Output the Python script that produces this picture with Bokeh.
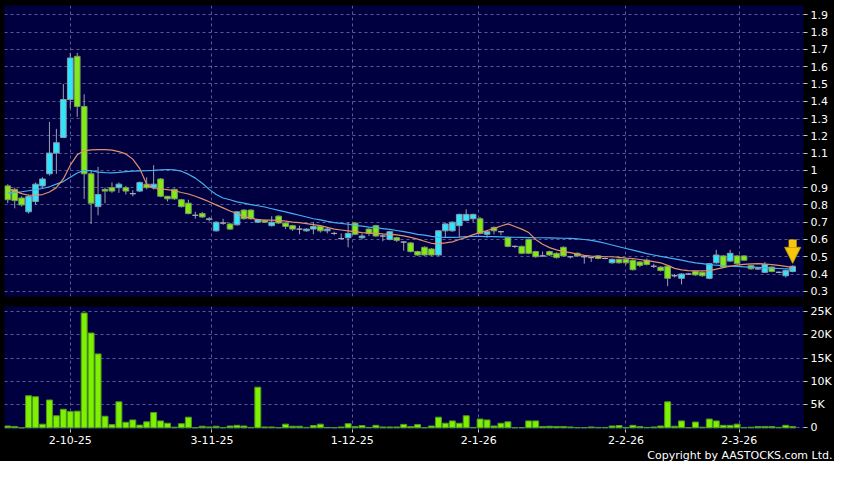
from bokeh.plotting import figure
from bokeh.layouts import column
from bokeh.models import (ColumnDataSource, FixedTicker, Range1d, Title, Arrow,
                          NormalHead, Grid)
from bokeh.embed import file_html
from bokeh.resources import INLINE

# ---------------- data ----------------
opens = [0.91, 0.89, 0.84, 0.76, 0.82, 0.91, 0.98, 1.10, 1.19, 1.41,
         1.66, 1.37, 0.98, 0.79, 0.89, 0.90, 0.90, 0.90, 0.865, 0.88,
         0.92, 0.90, 0.95, 0.85, 0.89, 0.83, 0.81, 0.74, 0.75, 0.715,
         0.65, 0.695, 0.69, 0.685, 0.77, 0.77, 0.70, 0.71, 0.68, 0.735,
         0.695, 0.68, 0.66, 0.65, 0.66, 0.675, 0.65, 0.635, 0.605, 0.61,
         0.695, 0.61, 0.66, 0.68, 0.62, 0.60, 0.61, 0.585, 0.58, 0.53,
         0.555, 0.545, 0.51, 0.65, 0.65, 0.68, 0.71, 0.72, 0.72, 0.63,
         0.67, 0.645, 0.61, 0.56, 0.56, 0.60, 0.53, 0.505, 0.53, 0.52,
         0.555, 0.50, 0.52, 0.50, 0.495, 0.505, 0.49, 0.465, 0.485, 0.485,
         0.48, 0.47, 0.48, 0.445, 0.44, 0.445, 0.39, 0.375, 0.40, 0.415,
         0.41, 0.375, 0.465, 0.505, 0.475, 0.505, 0.505, 0.45, 0.43, 0.41,
         0.44, 0.41, 0.39, 0.415]
highs = [0.92, 0.90, 0.85, 0.86, 0.93, 0.96, 1.28, 1.24, 1.50, 1.68,
         1.68, 1.44, 1.00, 1.02, 0.90, 0.93, 0.93, 0.91, 0.885, 0.935,
         0.96, 1.03, 0.955, 0.85, 0.895, 0.835, 0.83, 0.76, 0.76, 0.73,
         0.705, 0.72, 0.695, 0.765, 0.775, 0.775, 0.72, 0.715, 0.735, 0.74,
         0.70, 0.685, 0.68, 0.665, 0.70, 0.68, 0.67, 0.645, 0.635, 0.70,
         0.70, 0.635, 0.665, 0.685, 0.63, 0.65, 0.615, 0.59, 0.585, 0.535,
         0.56, 0.55, 0.655, 0.695, 0.705, 0.75, 0.775, 0.75, 0.73, 0.65,
         0.675, 0.65, 0.615, 0.565, 0.565, 0.605, 0.535, 0.53, 0.535, 0.525,
         0.56, 0.505, 0.525, 0.505, 0.50, 0.51, 0.495, 0.49, 0.49, 0.49,
         0.485, 0.475, 0.49, 0.46, 0.445, 0.45, 0.40, 0.405, 0.405, 0.42,
         0.415, 0.465, 0.54, 0.51, 0.54, 0.51, 0.51, 0.455, 0.435, 0.47,
         0.445, 0.415, 0.425, 0.45]
lows = [0.81, 0.78, 0.79, 0.75, 0.80, 0.90, 0.97, 0.98, 1.19, 1.36,
        1.31, 0.835, 0.69, 0.74, 0.81, 0.87, 0.87, 0.86, 0.85, 0.875,
        0.89, 0.89, 0.845, 0.82, 0.83, 0.785, 0.745, 0.72, 0.725, 0.705,
        0.645, 0.685, 0.655, 0.68, 0.715, 0.715, 0.695, 0.695, 0.675, 0.69,
        0.66, 0.65, 0.63, 0.645, 0.63, 0.64, 0.635, 0.625, 0.60, 0.555,
        0.625, 0.60, 0.62, 0.615, 0.59, 0.595, 0.585, 0.535, 0.525, 0.505,
        0.505, 0.505, 0.505, 0.61, 0.645, 0.61, 0.705, 0.70, 0.63, 0.61,
        0.63, 0.625, 0.555, 0.55, 0.515, 0.515, 0.495, 0.50, 0.505, 0.49,
        0.50, 0.49, 0.50, 0.46, 0.47, 0.485, 0.485, 0.46, 0.46, 0.455,
        0.42, 0.44, 0.45, 0.435, 0.415, 0.33, 0.38, 0.34, 0.395, 0.39,
        0.385, 0.37, 0.46, 0.435, 0.47, 0.455, 0.475, 0.425, 0.425, 0.405,
        0.41, 0.405, 0.38, 0.41]
closes = [0.83, 0.825, 0.80, 0.85, 0.92, 0.95, 1.10, 1.16, 1.41, 1.65,
          1.37, 0.98, 0.81, 0.86, 0.88, 0.88, 0.92, 0.88, 0.865, 0.93,
          0.90, 0.92, 0.85, 0.835, 0.835, 0.79, 0.75, 0.74, 0.73, 0.72,
          0.70, 0.695, 0.66, 0.76, 0.72, 0.72, 0.715, 0.70, 0.70, 0.695,
          0.675, 0.66, 0.66, 0.66, 0.675, 0.65, 0.66, 0.635, 0.605, 0.635,
          0.63, 0.62, 0.635, 0.62, 0.62, 0.645, 0.595, 0.585, 0.53, 0.51,
          0.51, 0.51, 0.65, 0.69, 0.70, 0.745, 0.745, 0.745, 0.635, 0.645,
          0.65, 0.645, 0.56, 0.56, 0.52, 0.52, 0.50, 0.505, 0.51, 0.495,
          0.505, 0.50, 0.505, 0.50, 0.495, 0.49, 0.49, 0.485, 0.465, 0.465,
          0.425, 0.45, 0.455, 0.445, 0.42, 0.375, 0.39, 0.40, 0.40, 0.395,
          0.39, 0.46, 0.51, 0.44, 0.52, 0.46, 0.48, 0.43, 0.43, 0.455,
          0.415, 0.41, 0.42, 0.445]
volumes = [400, 300, 0, 6900, 6700, 800, 6000, 2600, 4000, 3500,
           3600, 24700, 20400, 15900, 2500, 700, 5600, 1200, 1700, 600,
           1300, 3300, 1500, 1000, 150, 900, 2300, 50, 350, 200,
           350, 50, 400, 550, 400, 100, 8750, 200, 200, 50,
           800, 350, 350, 100, 500, 800, 100, 50, 200, 900,
           300, 500, 100, 550, 200, 200, 200, 750, 300, 700,
           50, 400, 2300, 1000, 1500, 1000, 2600, 100, 1900, 1700,
           400, 1000, 1300, 50, 50, 1500, 1500, 300, 350, 300,
           300, 200, 50, 50, 200, 100, 100, 400, 500, 50,
           550, 300, 100, 200, 400, 5600, 350, 1500, 50, 1250,
           150, 1900, 1500, 550, 550, 800, 100, 150, 300, 300,
           300, 100, 550, 300]
ma_short = [0.895, 0.88, 0.865, 0.856, 0.856, 0.86, 0.875, 0.90, 0.95, 1.03,
            1.09, 1.113, 1.118, 1.12, 1.12, 1.117, 1.108, 1.095, 1.065, 1.01,
            0.92, 0.895, 0.892, 0.888, 0.882, 0.872, 0.863, 0.85, 0.835, 0.818,
            0.80, 0.783, 0.765, 0.75, 0.732, 0.724, 0.715, 0.712, 0.712, 0.71,
            0.706, 0.70, 0.698, 0.692, 0.686, 0.68, 0.67, 0.66, 0.655, 0.65,
            0.645, 0.64, 0.637, 0.635, 0.632, 0.63, 0.627, 0.621, 0.612, 0.602,
            0.59, 0.578, 0.575, 0.58, 0.586, 0.60, 0.612, 0.628, 0.64, 0.652,
            0.663, 0.678, 0.69, 0.675, 0.66, 0.64, 0.60, 0.572, 0.553, 0.54,
            0.53, 0.524, 0.515, 0.508, 0.504, 0.502, 0.50, 0.50, 0.496, 0.492,
            0.49, 0.484, 0.478, 0.472, 0.465, 0.45, 0.433, 0.424, 0.42, 0.418,
            0.418, 0.42, 0.428, 0.437, 0.445, 0.452, 0.456, 0.459, 0.46, 0.458,
            0.455, 0.45, 0.444, 0.437]
ma_long = [0.87, 0.872, 0.876, 0.882, 0.888, 0.895, 0.905, 0.92, 0.935, 0.96,
           0.985, 1.0, 0.998, 0.99, 0.987, 0.985, 0.988, 0.993, 0.996, 0.997,
           0.998, 1.0, 1.003, 1.005, 1.003, 0.995, 0.978, 0.955, 0.925, 0.89,
           0.86, 0.84, 0.83, 0.818, 0.81, 0.802, 0.795, 0.788, 0.778, 0.768,
           0.76, 0.75, 0.74, 0.73, 0.72, 0.713, 0.705, 0.698, 0.693, 0.688,
           0.682, 0.677, 0.672, 0.668, 0.663, 0.658, 0.652, 0.645, 0.638, 0.63,
           0.625, 0.618, 0.614, 0.612, 0.612, 0.614, 0.617, 0.618, 0.618, 0.617,
           0.616, 0.615, 0.614, 0.613, 0.612, 0.611, 0.61, 0.61, 0.609, 0.608,
           0.607, 0.606, 0.604, 0.60, 0.595, 0.588, 0.578, 0.568, 0.558, 0.548,
           0.538, 0.528, 0.518, 0.51, 0.502, 0.495, 0.488, 0.48, 0.472, 0.465,
           0.46, 0.455, 0.451, 0.448, 0.446, 0.444, 0.442, 0.44, 0.438, 0.436,
           0.434, 0.432, 0.43, 0.428]

x_tick_pos = [9, 29.4, 49.6, 67.8, 89, 105.3]
x_tick_labels = ["2-10-25", "3-11-25", "1-12-25", "2-1-26", "2-2-26", "2-3-26"]
price_ticks = [0.3, 0.4, 0.5, 0.6, 0.7, 0.8, 0.9, 1.0, 1.1, 1.2, 1.3, 1.4,
               1.5, 1.6, 1.7, 1.8, 1.9]
price_tick_labels = ["0.3", "0.4", "0.5", "0.6", "0.7", "0.8", "0.9", "1",
                     "1.1", "1.2", "1.3", "1.4", "1.5", "1.6", "1.7", "1.8", "1.9"]
vol_ticks = [0, 5000, 10000, 15000, 20000, 25000]
vol_tick_labels = ["0", "5K", "10K", "15K", "20K", "25K"]
copyright_text = "Copyright by AASTOCKS.com Ltd."

# ---------------- styles ----------------
NAVY = "#000040"
UP_FILL, UP_LINE = "#2ee4ff", "#8a9aa4"
DN_FILL, DN_LINE = "#80ec14", "#7a9a62"
FLAT_LINE = "#a9aab8"
WICK = "#9aa0ac"
GRID = "#5a5a92"
FONT = "DejaVu Sans"
FRAME_W = 799
AXIS_W = 31

n = len(closes)
idx = list(range(n))

up = dict(x=[], top=[], bottom=[])
dn = dict(x=[], top=[], bottom=[])
fl = dict(x=[], top=[], bottom=[])
for i, o, c in zip(idx, opens, closes):
    d = up if c > o else (dn if c < o else fl)
    d["x"].append(i)
    d["top"].append(max(o, c))
    d["bottom"].append(min(o, c))

x_range = Range1d(-0.47, 114.56)


def style(p):
    p.background_fill_color = NAVY
    p.border_fill_color = "black"
    p.outline_line_color = None
    p.min_border_left = 4
    p.min_border_right = AXIS_W
    ax = p.yaxis[0]
    ax.axis_line_color = None
    ax.major_tick_in = 0
    ax.major_tick_out = 4
    ax.major_tick_line_color = "#c8c8c8"
    ax.minor_tick_line_color = None
    ax.major_label_text_color = "white"
    ax.major_label_text_font = FONT
    ax.major_label_text_font_size = "11px"
    ax.major_label_standoff = 3
    p.ygrid.grid_line_color = GRID
    p.ygrid.grid_line_dash = "3 3"
    p.xgrid.visible = False
    g = Grid(dimension=0, ticker=FixedTicker(ticks=x_tick_pos),
             grid_line_color=GRID, grid_line_dash="3 3")
    p.add_layout(g)


# ---------------- price panel ----------------
p1 = figure(frame_width=FRAME_W, frame_height=291, x_range=x_range,
            y_range=Range1d(0.27, 1.954), x_axis_location=None,
            y_axis_location="right", toolbar_location=None,
            output_backend="svg")
style(p1)
p1.min_border_top = 5
p1.min_border_bottom = 5
p1.yaxis.ticker = FixedTicker(ticks=price_ticks)
p1.ygrid.ticker = FixedTicker(ticks=price_ticks)
p1.yaxis.major_label_overrides = {t: l for t, l in zip(price_ticks, price_tick_labels)}

p1.segment(x0=idx, y0=lows, x1=idx, y1=highs, line_color=WICK, line_width=1)
p1.vbar(x="x", top="top", bottom="bottom", width=0.82, source=ColumnDataSource(up),
        fill_color=UP_FILL, line_color=UP_LINE, line_width=1)
p1.vbar(x="x", top="top", bottom="bottom", width=0.82, source=ColumnDataSource(dn),
        fill_color=DN_FILL, line_color=DN_LINE, line_width=1)
p1.vbar(x="x", top="top", bottom="bottom", width=0.82, source=ColumnDataSource(fl),
        fill_color=FLAT_LINE, line_color=FLAT_LINE, line_width=1)
p1.line(idx, ma_long, line_color="#45b0f0", line_width=1.2)
p1.line(idx, ma_short, line_color="#e3906a", line_width=1.2)

last = n - 1
p1.add_layout(Arrow(end=NormalHead(size=16, fill_color="#f5c60e", line_color="#c89a00",
                                   line_width=1),
                    x_start=last, y_start=highs[last] + 0.15,
                    x_end=last, y_end=highs[last] + 0.012,
                    line_color="#f5c60e", line_width=8))

# ---------------- volume panel ----------------
p2 = figure(frame_width=FRAME_W, frame_height=123, x_range=x_range,
            y_range=Range1d(-350, 26100), x_axis_location="below",
            y_axis_location="right", toolbar_location=None,
            output_backend="svg")
style(p2)
p2.min_border_top = 5
p2.min_border_bottom = 0
p2.yaxis.ticker = FixedTicker(ticks=vol_ticks)
p2.ygrid.ticker = FixedTicker(ticks=vol_ticks)
p2.yaxis.major_label_overrides = {t: l for t, l in zip(vol_ticks, vol_tick_labels)}

xa = p2.xaxis[0]
xa.ticker = FixedTicker(ticks=x_tick_pos)
xa.major_label_overrides = {t: l for t, l in zip(x_tick_pos, x_tick_labels)}
xa.axis_line_color = None
xa.major_tick_in = 0
xa.major_tick_out = 3
xa.major_tick_line_color = "#c8c8c8"
xa.minor_tick_line_color = None
xa.major_label_text_color = "white"
xa.major_label_text_font = FONT
xa.major_label_text_font_size = "11px"
xa.major_label_standoff = 3

p2.vbar(x=idx, top=volumes, bottom=0, width=0.86, fill_color="#7ff000",
        line_color="#4e9a1e", line_width=1)

p2.add_layout(Title(text=copyright_text, align="right", text_color="white",
                    text_font=FONT, text_font_size="11px", text_font_style="normal",
                    offset=-(AXIS_W - 2), standoff=0), "below")

layout = column(p1, p2, spacing=0)
layout.styles = {"background-color": "black"}
open("out.html", "w").write(file_html(layout, INLINE))
